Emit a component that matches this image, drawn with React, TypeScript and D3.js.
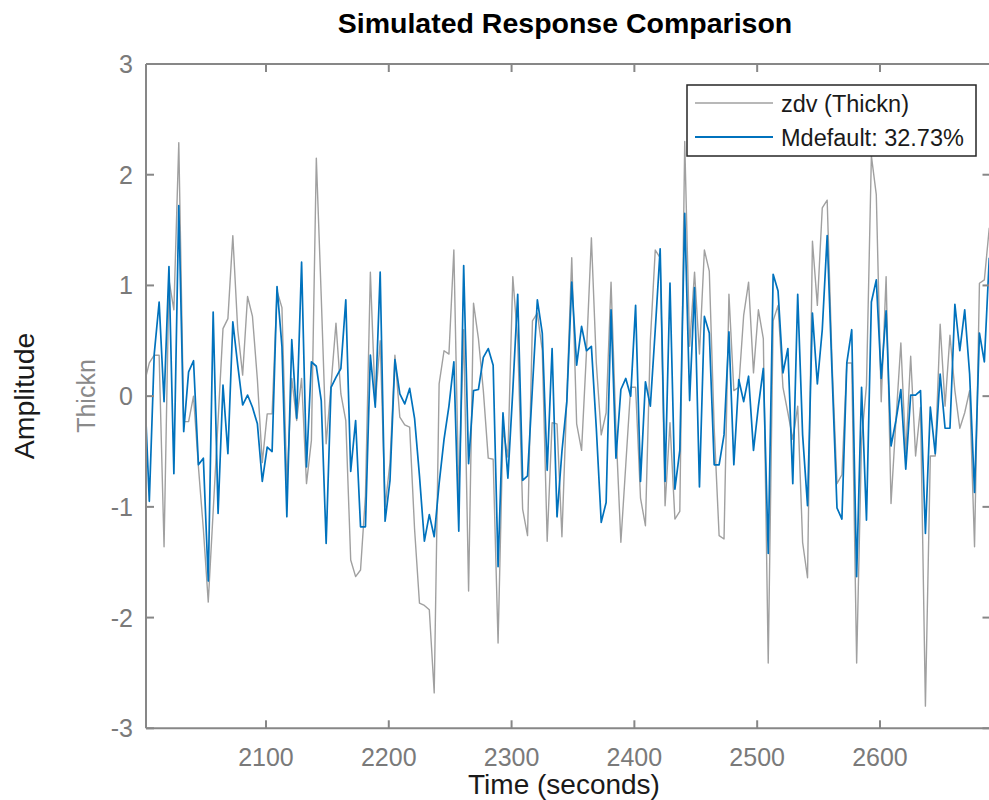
import React from "react";
import * as d3 from "d3";

// ---- data ----
const startTime = 2001; // seconds (first sample)
const sampleTime = 4; // seconds between samples

// measured output: zdv (Thickn)
const measured = [
  0.12, 0.3, 0.37, 0.37, -1.36, 1.05, 0.78, 2.29, -0.23, -0.23,
  0.0, -0.64, -1.2, -1.86, -1.04, -0.22, 0.61, 0.7, 1.45, 0.6,
  0.19, 0.9, 0.72, 0.15, -0.6, -0.16, -0.16, 0.95, 0.8, -0.8,
  0.16, -0.22, 0.16, -0.79, -0.4, 2.15, 0.9, -0.43, 0.1, 0.66,
  0.02, -0.22, -1.48, -1.63, -1.57, -0.9, 1.12, -0.07, 0.5, -1.0,
  -0.6, 0.37, -0.19, -0.26, -0.28, -1.2, -1.87, -1.89, -1.93, -2.68,
  0.11, 0.41, 0.38, 1.32, -0.9, 0.6, -1.76, 0.84, 0.52, 0.05,
  -0.56, -0.57, -2.23, -0.3, -0.55, 1.08, 0.5, -1.02, -1.26, 0.68,
  0.75, 0.41, -1.31, -0.24, -0.25, -1.27, 0.0, 1.25, -0.25, -0.49,
  0.4, 1.43, 0.3, -0.35, -0.15, 1.03, -0.3, -1.32, -0.62, 0.08,
  0.08, -0.92, -1.17, 0.5, 1.32, 1.25, -0.99, -0.24, -1.11, -1.04,
  2.3, 0.45, 1.12, 0.38, 1.32, 1.13, -0.29, -1.26, -1.29, 0.92,
  0.05, 0.08, 0.73, 1.03, 0.21, 0.78, 0.52, -2.41, 0.68, 0.82,
  0.08, -0.15, -0.39, -0.09, -1.32, -1.64, 1.4, 0.82, 1.7, 1.77,
  0.3, -0.79, -0.71, 0.3, 0.3, -2.41, -0.4, 0.1, 2.17, 1.82,
  -0.05, 1.08, -0.97, -0.22, 0.48, -0.52, 0.36, -0.54, -0.1, -2.8,
  -0.54, -0.54, 0.65, -0.09, 0.55, 0.05, -0.29, -0.15, 0.05, -1.36,
  1.02, 1.05, 1.52,
];

// simulated model output: Mdefault
const simulated = [
  0.11, -0.95, 0.38, 0.85, -0.05, 1.17, -0.7, 1.72, -0.32, 0.22,
  0.32, -0.62, -0.56, -1.67, 0.76, -1.06, 0.1, -0.52, 0.67, 0.28,
  -0.08, 0.01, -0.1, -0.25, -0.77, -0.46, -0.5, 0.99, 0.45, -1.09,
  0.51, -0.2, 1.21, -0.64, 0.31, 0.27, -0.04, -1.33, 0.08, 0.17,
  0.25, 0.87, -0.68, -0.22, -1.18, -1.18, 0.37, -0.1, 1.12, -1.13,
  -0.76, 0.33, 0.02, -0.07, 0.07, -0.2, -0.72, -1.31, -1.07, -1.27,
  -0.79, -0.39, -0.09, 0.31, -1.22, 1.18, -0.61, 0.05, 0.06, 0.35,
  0.43, 0.28, -1.54, -0.15, -0.74, 0.05, 0.92, -0.76, -0.72, 0.08,
  0.87, 0.57, -0.67, 0.43, -1.09, -0.5, -0.05, 1.03, 0.28, 0.63,
  0.41, 0.45, -0.29, -1.14, -0.96, 0.78, -0.56, 0.06, 0.16, 0.0,
  0.82, -0.77, 0.13, -0.09, 0.6, 1.33, -0.77, 1.02, -0.84, -0.49,
  1.65, -0.04, 0.98, -0.82, 0.72, 0.57, -0.62, -0.62, -0.35, 0.58,
  -0.62, 0.15, -0.05, 0.18, -0.49, -0.09, 0.25, -1.42, 1.1, 0.95,
  0.21, 0.43, -0.79, 0.92, -0.35, -0.99, 0.75, 0.11, 0.6, 1.45,
  0.2, -1.01, -1.11, 0.3, 0.6, -1.63, 0.08, -1.12, 0.85, 1.05,
  0.16, 0.77, -0.45, -0.22, 0.06, -0.66, 0.01, 0.01, 0.05, -1.24,
  -0.1, -0.52, 0.2, -0.29, -0.29, 0.83, 0.41, 0.78, 0.2, -0.87,
  0.57, 0.31, 1.25,
];

const xTicks = [2100, 2200, 2300, 2400, 2500, 2600];
const yTicks = [-3, -2, -1, 0, 1, 2, 3];
const xDomain = [2002.3, 2690];
const yDomain = [-3, 3];

const titleText = "Simulated Response Comparison";
const xLabel = "Time (seconds)";
const yLabel = "Amplitude";
const channelLabel = "Thickn";
const legendLabels = ["zdv (Thickn)", "Mdefault: 32.73%"];

// ---- layout / style ----
const W = 989;
const H = 800;
const left = 146;
const right = 990.5;
const top = 64;
const bottom = 728.3;
const FONT = "'Liberation Sans', Arial, Helvetica, sans-serif";
const AXIS = "#878787";
const TICKTXT = "#7a7a7a";
const GREY = "#a0a0a0";
const BLUE = "#0072BD";

export default function App() {
  const x = d3.scaleLinear().domain(xDomain).range([left, right]);
  const y = d3.scaleLinear().domain(yDomain).range([bottom, top]);

  const times = measured.map((_, i) => startTime + i * sampleTime);
  const line = d3
    .line<number>()
    .x((_, i) => x(times[i]))
    .y((d) => y(d));

  const tickLen = 8;
  const legX = 687;
  const legY = 85;
  const legW = 289;
  const legH = 71;
  const rowY = [103, 137];

  return (
    <svg
      width={W}
      height={H}
      style={{ position: "absolute", left: 0, top: 0, background: "#fff" }}
      fontFamily={FONT}
    >
      <rect x={0} y={0} width={W} height={H} fill="#fff" />
      <defs>
        <clipPath id="plotClip">
          <rect x={left} y={top} width={right - left} height={bottom - top} />
        </clipPath>
      </defs>

      {/* data */}
      <g clipPath="url(#plotClip)">
        <path d={line(measured) || ""} fill="none" stroke={GREY} strokeWidth={1.4} strokeLinejoin="round" />
        <path d={line(simulated) || ""} fill="none" stroke={BLUE} strokeWidth={1.7} strokeLinejoin="round" />
      </g>

      {/* axes box */}
      <g stroke={AXIS} strokeWidth={2} fill="none">
        <line x1={left} y1={top} x2={right} y2={top} />
        <line x1={left} y1={bottom} x2={right} y2={bottom} />
        <line x1={left} y1={top} x2={left} y2={bottom} />
        <line x1={right} y1={top} x2={right} y2={bottom} />
        {xTicks.map((t) => (
          <g key={"xt" + t}>
            <line x1={x(t)} x2={x(t)} y1={bottom} y2={bottom - tickLen} />
            <line x1={x(t)} x2={x(t)} y1={top} y2={top + tickLen} />
          </g>
        ))}
        {yTicks.map((t) => (
          <g key={"yt" + t}>
            <line x1={left} x2={left + tickLen} y1={y(t)} y2={y(t)} />
            <line x1={right} x2={right - tickLen} y1={y(t)} y2={y(t)} />
          </g>
        ))}
      </g>

      {/* tick labels */}
      <g fill={TICKTXT} fontSize={25}>
        {xTicks.map((t) => (
          <text key={"xl" + t} x={x(t)} y={bottom + 38} textAnchor="middle">
            {String(t)}
          </text>
        ))}
        {yTicks.map((t) => (
          <text key={"yl" + t} x={left - 13} y={y(t) + 9} textAnchor="end">
            {String(t)}
          </text>
        ))}
      </g>

      {/* labels */}
      <text x={565} y={33} textAnchor="middle" fontSize={28.5} fontWeight="bold" fill="#000">
        {titleText}
      </text>
      <text x={564} y={794} textAnchor="middle" fontSize={28} fill="#1a1a1a">
        {xLabel}
      </text>
      <text transform={`translate(34,396) rotate(-90)`} textAnchor="middle" fontSize={28.5} fill="#1a1a1a">
        {yLabel}
      </text>
      <text transform={`translate(95,396) rotate(-90)`} textAnchor="middle" fontSize={25} fill="#8a8a8a">
        {channelLabel}
      </text>

      {/* legend */}
      <g>
        <rect x={legX} y={legY} width={legW} height={legH} fill="#fff" stroke="#262626" strokeWidth={1.5} />
        <line x1={695} x2={773} y1={rowY[0]} y2={rowY[0]} stroke={GREY} strokeWidth={1.6} />
        <line x1={695} x2={773} y1={rowY[1]} y2={rowY[1]} stroke={BLUE} strokeWidth={1.8} />
        {legendLabels.map((s, i) => (
          <text key={s} x={781} y={rowY[i] + 8.5} fontSize={23.5} fill="#1a1a1a">
            {s}
          </text>
        ))}
      </g>
    </svg>
  );
}
